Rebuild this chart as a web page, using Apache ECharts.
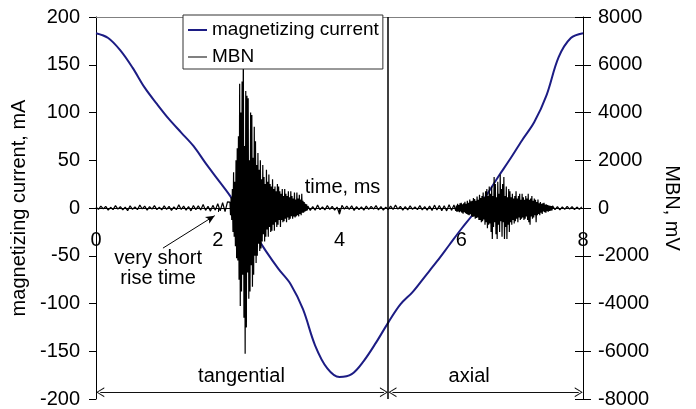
<!DOCTYPE html>
<html>
<head>
<meta charset="utf-8">
<script src="https://cdn.jsdelivr.net/npm/echarts@6/dist/echarts.min.js"></script>
<style>
  html, body { margin: 0; padding: 0; background: #fff; }
  #main { width: 696px; height: 409px; }
</style>
</head>
<body>
<div id="main"></div>
<script>
// magnetizing current (mA), sampled every 0.2 ms
const currentTimes = [0, 0.2, 0.4, 0.6, 0.8, 1.0, 1.2, 1.4, 1.6, 1.8, 2.0, 2.2, 2.4, 2.6, 2.8, 3.0, 3.2, 3.4, 3.6, 3.8,
  4.0, 4.2, 4.4, 4.6, 4.8, 5.0, 5.2, 5.4, 5.6, 5.8, 6.0, 6.2, 6.4, 6.6, 6.8, 7.0, 7.2, 7.4, 7.6, 7.8, 8.0];
const currentValues = [183, 178, 165, 147, 126, 109, 93, 79, 65, 47, 30, 13, -6, -26, -46, -64, -80, -106, -144, -168,
  -177, -174, -160, -141, -120, -101, -88, -72, -56, -39, -22, -6, 12, 32, 51, 71, 90, 118, 158, 178, 183];

// MBN (mV) segments: start time, step (ms), values
const mbnQuietA = { start: 0, step: 0.04, values: [
  40, -60, 80, -40, 70, -90, 30, -70, 100, -50,
  60, -80, 40, -110, 90, -60, 50, -70, 120, -40,
  80, -90, 60, -50, 100, -70, 40, -80, 90, -60,
  70, -100, 50, -70, 130, -60, 80, -90, 60, -120,
  100, -70, 90, -80, 150, -100, 70, -130, 110, -90,
  180, -120, 220, -150, 260] };
const mbnTangential = { start: 2.2, step: 0.01, values: [
  250, -300, 450, -500, 800, -1000, 1500, -1200, 1100, -1600,
  2000, -2100, 2500, -2200, 3000, -3000, 5200, -4100, 4000, -3500,
  5300, -2800, 7000, -4600, 2600, -6100, 4900, -5000, 4700, -2700,
  4600, -3800, 2000, -3500, 4000, -2400, 3900, -3300, 2100, -2800,
  3400, -2000, 2800, -2300, 1800, -2000, 2300, -1500, 1600, -1800,
  2000, -1700, 1200, -1400, 1800, -1100, 1300, -1400, 1000, -1200,
  1600, -900, 1100, -1200, 1400, -800, 1000, -1000, 900, -950,
  1200, -700, 800, -950, 900, -600, 700, -800, 1000, -700,
  900, -500, 700, -800, 600, -500, 800, -600, 500, -550,
  800, -450, 600, -600, 500, -400, 700, -500, 450, -450,
  700, -350, 500, -450, 400, -350, 650, -400, 350, -350,
  650, -300, 400, -350, 550, -250, 350, -300, 600, -200,
  300, -200, 250, -150, 180, -120, 150, -100] };
const mbnQuietB = { start: 3.48, step: 0.04, values: [
  80, -100, 60, -90, 120, -70, 50, -80, 100, -60,
  70, -90, 40, -260, 110, -50, 80, -60, 90, -100,
  60, -70, 50, -90, 80, -60, 70, -50, 100, -80,
  60, -90, 40, -70, 80, -60, 120, -50, 70, -90,
  60, -80, 90, -60, 50, -70, 100, -80, 60, -90,
  80, -100, 120, -80, 100, -110, 90, -120, 140, -100,
  130] };
const mbnAxial = { start: 5.9, step: 0.01, values: [
  150, -120, 100, -160, 180, -140, 120, -180, 200, -150,
  220, -200, 160, -240, 200, -180, 260, -220, 180, -250,
  300, -280, 220, -300, 350, -260, 280, -340, 300, -380,
  420, -350, 380, -450, 300, -420, 480, -400, 350, -500,
  550, -500, 420, -600, 500, -550, 650, -480, 450, -700,
  700, -600, 800, -850, 500, -700, 900, -650, 600, -1000,
  900, -1300, 500, -800, 1300, -600, 1000, -1100, 450, -1300,
  1100, -700, 600, -1000, 1400, -550, 800, -1200, 1000, -600,
  1300, -1300, 500, -800, 900, -1300, 450, -700, 800, -1000,
  700, -600, 450, -700, 600, -500, 400, -650, 500, -550,
  700, -450, 400, -600, 500, -400, 600, -500, 350, -450,
  600, -400, 450, -500, 350, -450, 500, -350, 400, -500,
  600, -600, 350, -700, 400, -350, 500, -450, 300, -400,
  400, -300, 350, -600, 250, -300, 350, -250, 200, -300,
  250, -200, 180, -250, 200, -150, 220, -180, 150, -200,
  150, -130, 120, -150, 100, -120, 90, -110, 80, -100] };
const mbnQuietC = { start: 7.5, step: 0.04, values: [90, -70, 60, -80, 50, -60, 70, -50, 60, -70, 40, -60, 50] };

const switchTime = 4.8;

const FONT = "'Liberation Sans', Arial, sans-serif";
const GRID = { left: 96, right: 113, top: 17, bottom: 10 };
const PLOT_H = 409 - GRID.top - GRID.bottom;

function segmentPoints(seg) {
  return seg.values.map(function (v, i) {
    return [+(seg.start + i * seg.step).toFixed(3), v];
  });
}
const mbnData = [].concat(
  segmentPoints(mbnQuietA), segmentPoints(mbnTangential), segmentPoints(mbnQuietB),
  segmentPoints(mbnAxial), segmentPoints(mbnQuietC));
const currentData = currentTimes.map(function (t, i) { return [t, currentValues[i]]; });

// open chevron arrowhead, pointing up
const chevron = 'path://M5,0 L10,10 L8.8,10 L5,2 L1.2,10 L0,10 Z';

var myChart = echarts.init(document.getElementById('main'), null, { renderer: 'canvas' });

const options = {
  animation: false,
  textStyle: { fontFamily: FONT },
  grid: { left: GRID.left, right: GRID.right, top: GRID.top, bottom: GRID.bottom, containLabel: false, outerBoundsMode: 'none' },
  legend: {
    left: 183, top: 15, orient: 'vertical',
    padding: [5, 4, 2, 5], itemGap: 7, itemWidth: 19, itemHeight: 20,
    borderColor: '#333', borderWidth: 1, backgroundColor: '#fff',
    textStyle: { fontSize: 19, color: '#000', fontFamily: FONT, lineHeight: 20 },
    data: [
      { name: 'magnetizing current', icon: 'path://M0,0 L19,0 L19,2 L0,2 Z', itemStyle: { color: '#1c1c84' } },
      { name: 'MBN', icon: 'path://M0,0 L19,0 L19,1 L0,1 Z', itemStyle: { color: '#000' } }
    ],
    z: 10
  },
  xAxis: [{
    // time axis sits on the zero line (both y ranges are symmetric about zero)
    type: 'value', min: 0, max: 8, interval: 2, position: 'bottom', offset: -PLOT_H / 2,
    axisLine: { onZero: false, lineStyle: { color: '#000', width: 1 } },
    axisTick: { show: true, length: 4, lineStyle: { color: '#000' } },
    axisLabel: { fontSize: 20, color: '#000', margin: 22, fontFamily: FONT },
    splitLine: { show: false }
  }, {
    type: 'value', min: 0, max: 8, position: 'top',
    axisLine: { show: true, onZero: false, lineStyle: { color: '#808080', width: 1 } },
    axisTick: { show: false }, axisLabel: { show: false }, splitLine: { show: false }
  }],
  yAxis: [{
    type: 'value', min: -200, max: 200, interval: 50, position: 'left',
    name: 'magnetizing current, mA', nameLocation: 'middle', nameGap: 58,
    nameTextStyle: { fontSize: 20, color: '#000', fontFamily: FONT },
    axisLine: { show: true, onZero: false, lineStyle: { color: '#000', width: 1 } },
    axisTick: { show: true, length: 7, lineStyle: { color: '#000' } },
    axisLabel: { fontSize: 20, color: '#000', margin: 16, fontFamily: FONT },
    splitLine: { show: false }
  }, {
    type: 'value', min: -8000, max: 8000, interval: 2000, position: 'right',
    name: 'MBN, mV', nameLocation: 'middle', nameGap: 79, nameRotate: -90,
    nameTextStyle: { fontSize: 20, color: '#000', fontFamily: FONT },
    axisLine: { show: true, onZero: false, lineStyle: { color: '#000', width: 1 } },
    axisTick: { show: true, length: 8, lineStyle: { color: '#000' } },
    axisLabel: { fontSize: 20, color: '#000', margin: 15, fontFamily: FONT, formatter: function (v) { return String(v); } },
    splitLine: { show: false }
  }, {
    type: 'value', min: -8000, max: 8000, interval: 2000, position: 'right',
    axisLine: { show: false, onZero: false },
    axisTick: { show: true, inside: true, length: 8, lineStyle: { color: '#000' } },
    axisLabel: { show: false }, splitLine: { show: false }
  }],
  series: [{
    name: 'magnetizing current', type: 'line', xAxisIndex: 0, yAxisIndex: 0,
    data: currentData, smooth: 0.35, symbol: 'none',
    lineStyle: { color: '#1c1c84', width: 2 }, itemStyle: { color: '#1c1c84' },
    z: 2,
    markLine: {
      silent: true, symbol: 'none', animation: false,
      label: { show: false },
      lineStyle: { color: '#000', width: 1.5, type: 'solid' },
      data: [
        { xAxis: switchTime },
        [{ coord: [0.07, -193], symbol: chevron, symbolSize: [10, 8] },
         { coord: [switchTime - 0.07, -193], symbol: chevron, symbolSize: [10, 8], lineStyle: { width: 1, color: '#111' } }],
        [{ coord: [switchTime + 0.07, -193], symbol: chevron, symbolSize: [10, 8] },
         { coord: [7.93, -193], symbol: chevron, symbolSize: [10, 8], lineStyle: { width: 1, color: '#111' } }],
        [{ coord: [1.10, -42], symbol: 'none' },
         { coord: [1.95, -8], symbol: 'arrow', symbolSize: [6, 9], lineStyle: { width: 1, color: '#000' } }]
      ]
    }
  }, {
    name: 'MBN', type: 'line', xAxisIndex: 0, yAxisIndex: 1,
    data: mbnData, symbol: 'none', sampling: null,
    lineStyle: { color: '#000', width: 1.2 }, itemStyle: { color: '#000' },
    z: 3
  }]
};

myChart.setOption(options);

function px(t, v) { return myChart.convertToPixel({ xAxisIndex: 0, yAxisIndex: 0 }, [t, v]); }
function label(text, t, v, align) {
  const p = px(t, v);
  return {
    type: 'text', x: p[0], y: p[1], z: 20,
    style: { text: text, font: '20px ' + FONT, fill: '#000', align: align || 'center', verticalAlign: 'middle', lineHeight: 20 }
  };
}
myChart.setOption({
  graphic: [
    label('time, ms', 3.43, 21, 'left'),
    label('tangential', 2.39, -176),
    label('axial', 6.13, -176),
    label('very short\nrise time', 1.02, -63)
  ]
});

window.onresize = function () { myChart.resize(); };
</script>
</body>
</html>
